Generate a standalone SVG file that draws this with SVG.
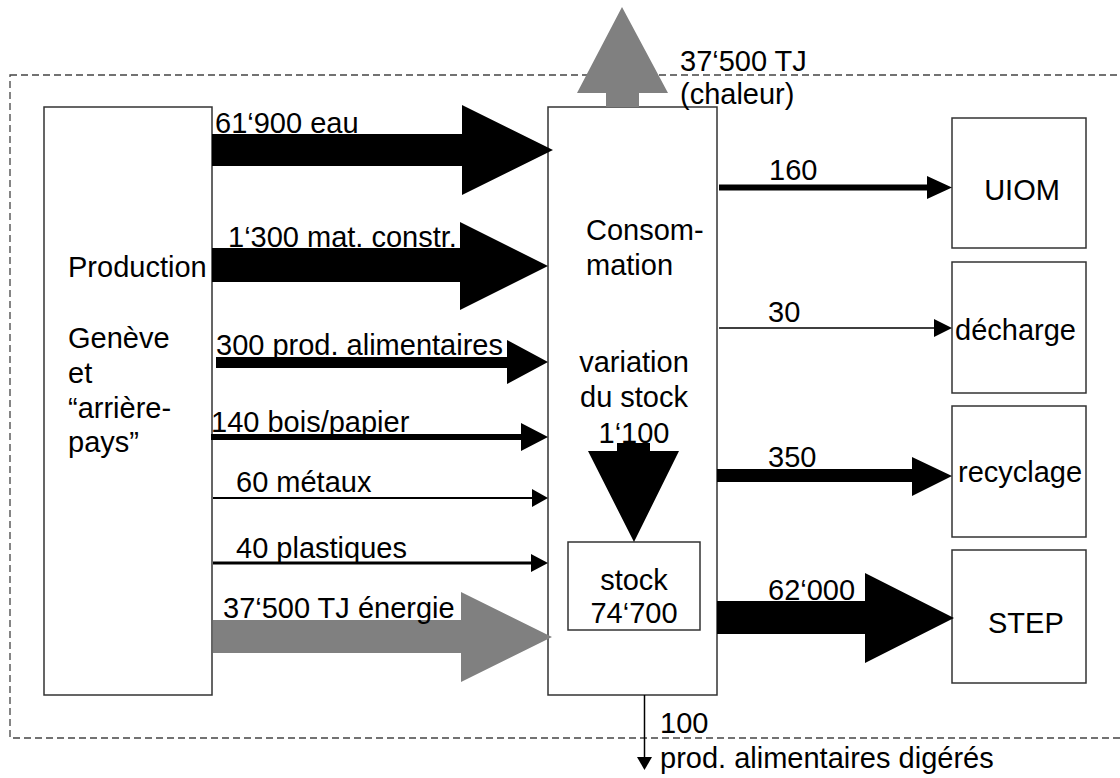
<svg xmlns="http://www.w3.org/2000/svg" width="1120" height="778" viewBox="0 0 1120 778">
<style>
.box{fill:#fff;stroke:#333;stroke-width:1.5}
.t{font-family:"Liberation Sans",Arial,sans-serif;font-size:29px;fill:#000}
.blk{fill:#000}
.gry{fill:#808080}
.frame{fill:none;stroke:#444;stroke-width:1.3;stroke-dasharray:7 4}
</style>
<rect class="frame" x="10" y="75" width="1120" height="663"/>
<g id="production">
<rect class="box" x="44" y="107" width="168" height="588"/>
<text class="t" x="68" y="277">Production</text>
<text class="t" x="68" y="348">Genève</text>
<text class="t" x="68" y="383">et</text>
<text class="t" x="68" y="418">“arrière-</text>
<text class="t" x="68" y="452">pays”</text>
</g>
<g id="consommation">
<rect class="box" x="548" y="107" width="169" height="588"/>
<text class="t" x="586" y="240">Consom-</text>
<text class="t" x="586" y="275">mation</text>
<text class="t" x="634" y="372" text-anchor="middle">variation</text>
<text class="t" x="634" y="407" text-anchor="middle">du stock</text>
<text class="t" x="634" y="443" text-anchor="middle">1‘100</text>
</g>
<g id="stock">
<rect class="box" x="568" y="542" width="132" height="88"/>
<text class="t" x="634" y="590" text-anchor="middle">stock</text>
<text class="t" x="634" y="623" text-anchor="middle">74‘700</text>
</g>
<g id="uiom">
<rect class="box" x="952" y="118" width="134" height="130"/>
<text class="t" x="1022" y="200" text-anchor="middle">UIOM</text>
</g>
<g id="decharge">
<rect class="box" x="952" y="262" width="134" height="131"/>
<text class="t" x="955" y="340">décharge</text>
</g>
<g id="recyclage">
<rect class="box" x="952" y="406" width="134" height="131"/>
<text class="t" x="958" y="482">recyclage</text>
</g>
<g id="step">
<rect class="box" x="952" y="550" width="134" height="133"/>
<text class="t" x="988" y="633">STEP</text>
</g>
<g id="connectors">
<polygon class="blk" points="212,134 462,134 462,105 553,150 462,195 462,166 212,166"/>
<polygon class="blk" points="212,248 460,248 460,222 548,266 460,310 460,282 212,282"/>
<polygon class="blk" points="216,357 507,357 507,340 548,362 507,384 507,368 216,368"/>
<polygon class="blk" points="211,434 521,434 521,423 548,437 521,451 521,440 211,440"/>
<polygon class="blk" points="213,497 532,497 532,489 548,498 532,507 532,499 213,499"/>
<polygon class="blk" points="213,561.5 531,561.5 531,554 548,563 531,572 531,564.5 213,564.5"/>
<polygon class="gry" points="213,620 461,620 461,592 552,637 461,682 461,653 213,653"/>
<polygon class="gry" points="606,107 606,93 577,93 622,7 668,93 639,93 639,107"/>
<polygon class="blk" points="617,443 650,443 650,451 679,451 634,542 588,451 617,451"/>
<polygon class="blk" points="719,184.5 927,184.5 927,176 952,187.5 927,199 927,190.5 719,190.5"/>
<polygon class="blk" points="719,327.3 934,327.3 934,319 952,328 934,337 934,328.7 719,328.7"/>
<polygon class="blk" points="717,469 912,469 912,457 952,476 912,496 912,482 717,482"/>
<polygon class="blk" points="717,601 865,601 865,573 954,618 865,663 865,634 717,634"/>
<line x1="644.5" y1="695" x2="644.5" y2="760" stroke="#000" stroke-width="1.5"/>
<polygon class="blk" points="637,757 652,757 644.5,770"/>
</g>
<g id="labels">
<text class="t" x="215" y="133">61‘900 eau</text>
<text class="t" x="228" y="247">1‘300 mat. constr.</text>
<text class="t" x="216" y="355">300 prod. alimentaires</text>
<text class="t" x="211" y="432">140 bois/papier</text>
<text class="t" x="236" y="492">60 métaux</text>
<text class="t" x="236" y="558">40 plastiques</text>
<text class="t" x="223" y="618">37‘500 TJ énergie</text>
<text class="t" x="680" y="71">37‘500 TJ</text>
<text class="t" x="680" y="104">(chaleur)</text>
<text class="t" x="769" y="180">160</text>
<text class="t" x="768" y="322">30</text>
<text class="t" x="768" y="467">350</text>
<text class="t" x="768" y="600">62‘000</text>
<text class="t" x="660" y="733">100</text>
<text class="t" x="660" y="768">prod. alimentaires digérés</text>
</g>
</svg>
